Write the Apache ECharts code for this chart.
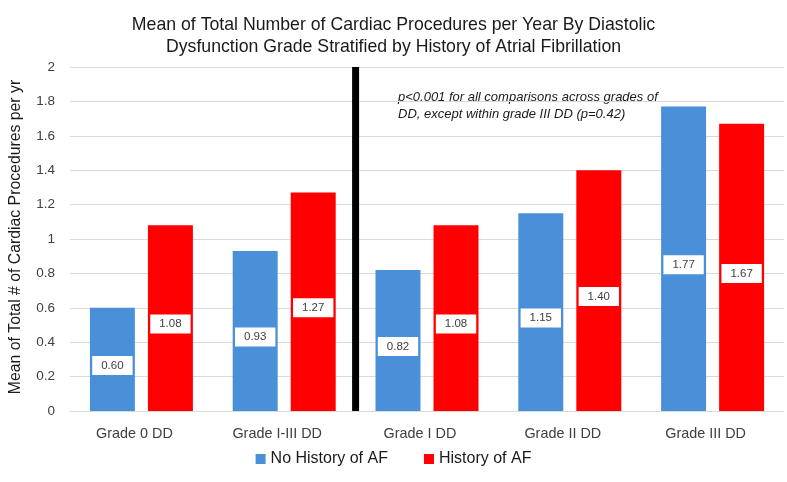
<!DOCTYPE html>
<html>
<head>
<meta charset="utf-8">
<script src="https://cdn.jsdelivr.net/npm/echarts@6/dist/echarts.min.js"></script>
<style>html,body{margin:0;padding:0;background:#fff}#c{width:787px;height:482px}</style>
</head>
<body>
<div id="c"></div>
<script>
var categories = ['Grade 0 DD', 'Grade I-III DD', 'Grade I DD', 'Grade II DD', 'Grade III DD'];
var noAF = [0.60, 0.93, 0.82, 1.15, 1.77];
var withAF = [1.08, 1.27, 1.08, 1.40, 1.67];
var seriesNames = ['No History of AF', 'History of AF'];
var dividerAt = 2; // boundary between category index 1 and 2
var yTicks = [0, 0.2, 0.4, 0.6, 0.8, 1, 1.2, 1.4, 1.6, 1.8, 2];
var titleLines = ['Mean of Total Number of Cardiac Procedures per Year By Diastolic', 'Dysfunction Grade Stratified by History of Atrial Fibrillation'];
var noteLines = ['p<0.001 for all comparisons across grades of', 'DD, except within grade III DD (p=0.42)'];

var FONT = '"Liberation Sans", Arial, sans-serif';
var chart = echarts.init(document.getElementById('c'), null, {renderer: 'canvas'});
var labelCfg = {
  show: true, position: 'inside', offset: [0, 6],
  formatter: function (p) { return p.value.toFixed(2); },
  backgroundColor: '#ffffff', padding: [4, 9, 3, 9],
  color: '#404040', fontSize: 11.5, fontFamily: FONT
};
chart.setOption({
  animation: false,
  title: {
    text: titleLines.join('\n'), left: 'center', top: 9,
    textStyle: {fontFamily: FONT, fontSize: 17.7, fontWeight: 'normal', color: '#1a1a1a', lineHeight: 22}
  },
  legend: {
    data: seriesNames, bottom: 10, left: 'center', itemWidth: 10, itemHeight: 10, itemGap: 36,
    icon: 'rect',
    textStyle: {fontFamily: FONT, fontSize: 16, color: '#1a1a1a'}
  },
  grid: {left: 70, right: 3, top: 67, bottom: 71, containLabel: false},
  xAxis: [{
    type: 'category', data: categories,
    axisTick: {show: false},
    axisLine: {show: true, lineStyle: {color: '#d9d9d9'}},
    axisLabel: {fontFamily: FONT, fontSize: 14.4, color: '#404040', margin: 16, padding: [0, 14, 0, 0]}
  }, {
    type: 'value', min: 0, max: categories.length, show: false
  }],
  yAxis: {
    type: 'value', min: yTicks[0], max: yTicks[yTicks.length - 1], interval: 0.2,
    name: 'Mean of Total # of Cardiac Procedures per yr', nameLocation: 'middle', nameGap: 46,
    nameTextStyle: {fontFamily: FONT, fontSize: 15.8, color: '#1a1a1a', padding: [0, 0, 0, 4]},
    axisLine: {show: false}, axisTick: {show: false},
    splitLine: {lineStyle: {color: '#d9d9d9'}},
    axisLabel: {fontFamily: FONT, fontSize: 13.5, color: '#404040', margin: 15,
      formatter: function (v) { return String(Math.round(v * 10) / 10); }}
  },
  series: [{
    name: seriesNames[0], type: 'bar', data: noAF, barWidth: '31.5%', barGap: '29%',
    itemStyle: {color: '#4a90d9'}, label: labelCfg
  }, {
    name: seriesNames[1], type: 'bar', data: withAF, barWidth: '31.5%', barGap: '29%',
    itemStyle: {color: '#ff0000'}, label: labelCfg
  }, {
    name: 'divider', type: 'line', xAxisIndex: 1, symbol: 'none', silent: true,
    data: [[dividerAt, yTicks[0]], [dividerAt, yTicks[yTicks.length - 1]]],
    lineStyle: {color: '#000000', width: 7}, z: 5
  }],
  graphic: [{
    type: 'text', left: 398, top: 89,
    style: {text: noteLines.join('\n'), font: 'italic 13px ' + FONT, fill: '#1a1a1a', lineHeight: 17}
  }]
});
</script>
</body>
</html>
